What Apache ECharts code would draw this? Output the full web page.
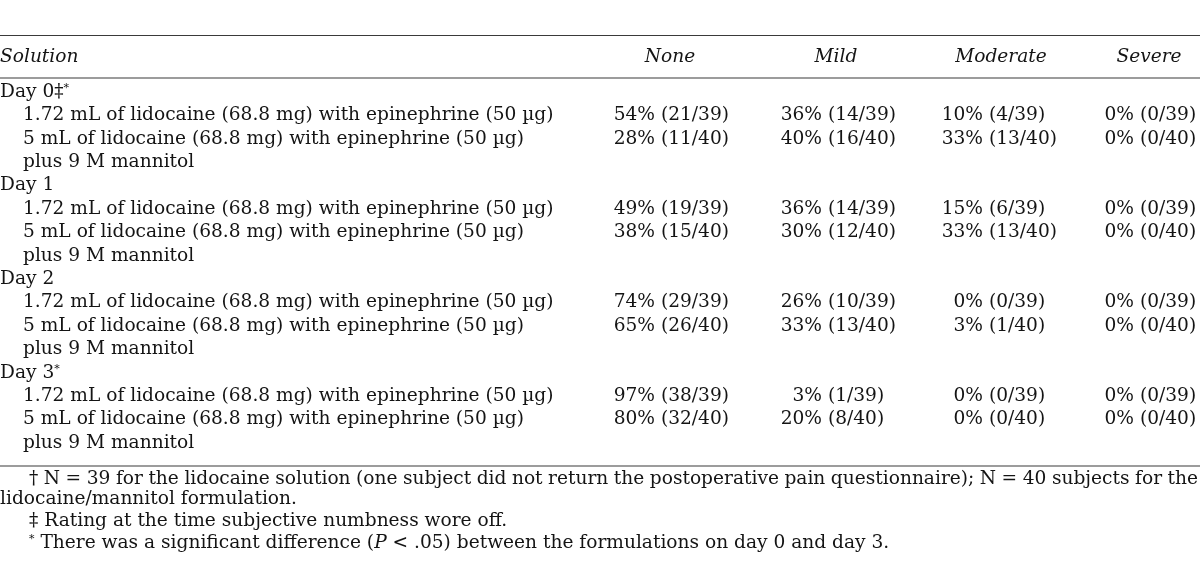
<!DOCTYPE html>
<html><head><meta charset="utf-8">
<script src="https://cdn.jsdelivr.net/npm/echarts@6/dist/echarts.min.js"></script>
<style>html,body{margin:0;padding:0;background:#fff}#main{width:1200px;height:587px}</style>
</head><body><div id="main"></div>
<script>
// ---------- data ----------
const headerSolution = 'Solution';
const severities = ['None', 'Mild', 'Moderate', 'Severe'];
const days = ['Day 0', 'Day 1', 'Day 2', 'Day 3'];
const dayMarks = ['‡{sup|*}', '', '', '{sup|*}'];
const solutions = ['1.72 mL of lidocaine (68.8 mg) with epinephrine (50 µg)',
                   '5 mL of lidocaine (68.8 mg) with epinephrine (50 µg)'];
const solutionCont = 'plus 9 M mannitol';
const groupN = [39, 40];
const lidoPct   = [[54, 36, 10, 0], [49, 36, 15, 0], [74, 26, 0, 0], [97, 3, 0, 0]];
const lidoCount = [[21, 14, 4, 0], [19, 14, 6, 0], [29, 10, 0, 0], [38, 1, 0, 0]];
const mannPct   = [[28, 40, 33, 0], [38, 30, 33, 0], [65, 33, 3, 0], [80, 20, 0, 0]];
const mannCount = [[11, 16, 13, 0], [15, 12, 13, 0], [26, 13, 1, 0], [32, 8, 0, 0]];
const footnote1 = '† N = 39 for the lidocaine solution (one subject did not return the postoperative pain questionnaire); N = 40 subjects for the';
const footnote1b = 'lidocaine/mannitol formulation.';
const footnote2 = '‡ Rating at the time subjective numbness wore off.';
const footnote3 = '{sup|*} There was a significant difference ({it|P} < .05) between the formulations on day 0 and day 3.';

// ---------- layout / style ----------
const FONT = 'DejaVu Serif';
const FS = 18.6;
const INK = '#141414';
const RULE = '#3a3a3a';
const X_DAY = 0, X_SOL = 23;
const PCT_ANCHOR = [655, 822, 983, 1134];
const HEAD_X = [670, 836, 1001, 1149];
const ROW0 = 92, ROW_STEP = 23.4, N_ROWS = 16;
const HEAD_Y = 57, RULES_Y = [35.5, 78, 466];
const FN_Y = [479, 499, 521, 543];
const RICH = {
  sup: { fontFamily: FONT, fontSize: 11, verticalAlign: 'top', fill: INK, padding: [0, 0, 6, 0] },
  it: { fontFamily: FONT, fontSize: FS, fontStyle: 'italic', fill: INK }
};

// ---------- build table cells from data ----------
const rowKeys = [];
const cells = [];
function addCell(x, row, text, align) { cells.push({ value: [x, row], text: text, align: align }); }
days.forEach((d, di) => {
  let r = rowKeys.length; rowKeys.push(d);
  addCell(X_DAY, r, d + dayMarks[di], 'left');
  [[lidoPct, lidoCount], [mannPct, mannCount]].forEach((grp, gi) => {
    r = rowKeys.length; rowKeys.push(d + '-' + gi);
    addCell(X_SOL, r, solutions[gi], 'left');
    grp[0][di].forEach((p, si) => {
      addCell(PCT_ANCHOR[si], r, p + '%', 'right');
      addCell(PCT_ANCHOR[si], r, ' (' + grp[1][di][si] + '/' + groupN[gi] + ')', 'left');
    });
  });
  r = rowKeys.length; rowKeys.push(d + '-cont');
  addCell(X_SOL, r, solutionCont, 'left');
});

// ---------- footnote justification ----------
const W = 1200;
const ctx = document.createElement('canvas').getContext('2d');
ctx.font = FS + 'px "' + FONT + '"';
const fnWords = footnote1.split(' ');
const fnX0 = 29, fnX1 = 1198;
const wordW = fnWords.map(w => ctx.measureText(w).width);
const gap = (fnX1 - fnX0 - wordW.reduce((a, b) => a + b, 0)) / (fnWords.length - 1);
const graphics = [];
let cx = fnX0;
fnWords.forEach((w, i) => {
  graphics.push({ type: 'text', x: cx, y: FN_Y[0], style: { text: w, fontFamily: FONT, fontSize: FS, fill: INK, align: 'left', verticalAlign: 'middle', textAlign: 'left', textVerticalAlign: 'middle' } });
  cx += wordW[i] + gap;
});
function gtext(x, y, text, align, italic) {
  return { type: 'text', x: x, y: y, style: { text: text, rich: RICH, fontFamily: FONT, fontSize: FS, fontStyle: italic ? 'italic' : 'normal', fill: INK, align: align, verticalAlign: 'middle', textAlign: align, textVerticalAlign: 'middle' } };
}
graphics.push(gtext(0, FN_Y[1], footnote1b, 'left'));
graphics.push(gtext(29, FN_Y[2], footnote2, 'left'));
graphics.push(gtext(29, FN_Y[3], footnote3, 'left'));
// headers
graphics.push(gtext(0, HEAD_Y, headerSolution, 'left', true));
severities.forEach((s, i) => graphics.push(gtext(HEAD_X[i], HEAD_Y, s, 'center', true)));
// rules
RULES_Y.forEach(y => graphics.push({ type: 'line', shape: { x1: 0, y1: y, x2: W, y2: y }, style: { stroke: RULE, lineWidth: 1.2 } }));

const chart = echarts.init(document.getElementById('main'), null, { renderer: 'canvas' });
chart.setOption({
  animation: false,
  backgroundColor: '#fff',
  grid: { left: 0, right: 0, top: ROW0 - ROW_STEP / 2, height: ROW_STEP * N_ROWS },
  xAxis: { type: 'value', min: 0, max: W, show: false },
  yAxis: { type: 'category', data: rowKeys, inverse: true, show: false },
  series: [{
    type: 'custom',
    coordinateSystem: 'cartesian2d',
    data: cells.map(c => c.value),
    renderItem: function (params, api) {
      const c = cells[params.dataIndex];
      const p = api.coord([api.value(0), api.value(1)]);
      return { type: 'text', x: p[0], y: p[1], style: { text: c.text, rich: RICH, fontFamily: FONT, fontSize: FS, fill: INK, align: c.align, verticalAlign: 'middle', textAlign: c.align, textVerticalAlign: 'middle' } };
    }
  }],
  graphic: graphics
});
</script></body></html>
